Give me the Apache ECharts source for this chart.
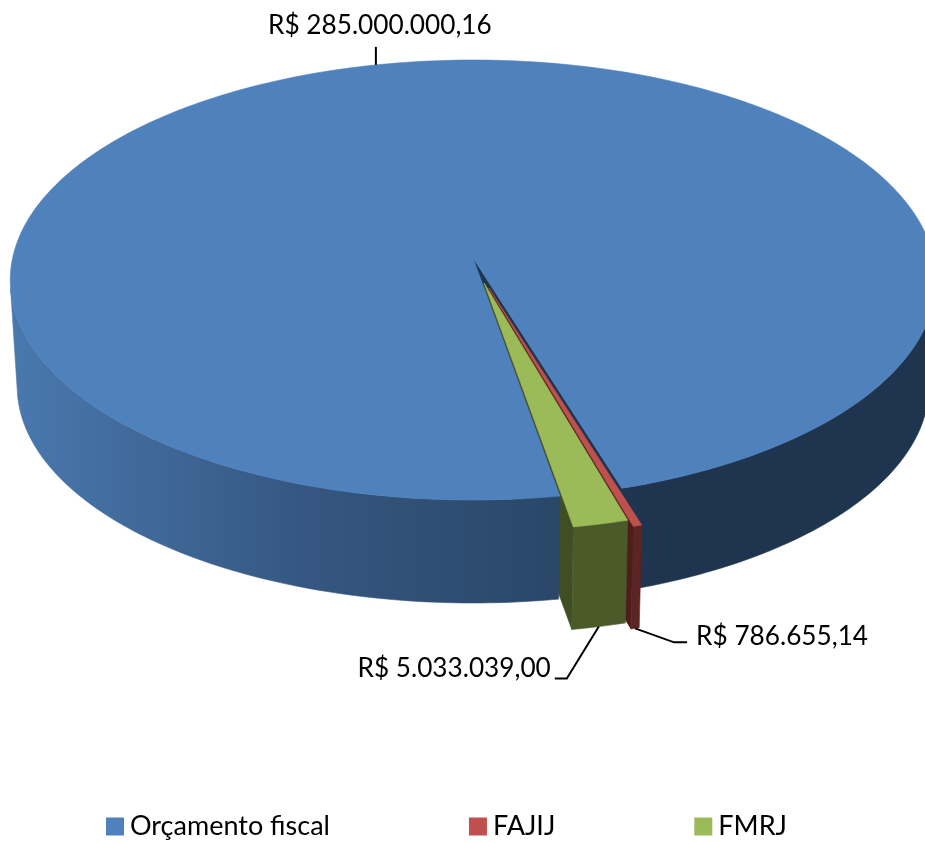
<!DOCTYPE html>
<html>
<head>
<meta charset="utf-8">
<style>
html, body { margin: 0; padding: 0; background: #fff; overflow: hidden; }
#chart { width: 925px; height: 843px; }
</style>
<script src="https://cdn.jsdelivr.net/npm/echarts@6/dist/echarts.min.js"></script>
</head>
<body>
<div id="chart"></div>
<script>
var categories = ['Orçamento fiscal', 'FAJIJ', 'FMRJ'];
var values = [285000000.16, 786655.14, 5033039.00];
var valueLabels = ['R$ 285.000.000,16', 'R$ 786.655,14', 'R$ 5.033.039,00'];

// cores: topo, parede lateral, parede radial
var topColors = ['#4f81bd', '#c0504d', '#9bbb59'];
var wallColors = ['#2a4768', '#5c2422', '#4a5a28'];
var faceColors = ['#1f344f', '#4e1e1c', '#414e23'];

// explosao de cada fatia, no plano do disco
var offsets = [[-0.002, 0], [0.032, 0.136], [0.0217, 0.1135]];

// primeira fatia comeca aqui (graus, horario a partir do topo)
var firstAngle = 170.2;

// projecao do disco em perspectiva
var view = { cx: 474, cy: 258, a: 460.5, b: 217.8, k: 0.1, scale: 0.985, cyBottom: 364.6 };

// onde a parede some atras do topo
var silhouette = { left: 262, right: 98 };

var FONT = '26.2px Lato';
var RAD = Math.PI / 180;

var total = values.reduce(function (s, v) { return s + v; }, 0);

function project(u, v, bottom) {
	var w = 1 - view.k * v;
	var x = view.a * u / w;
	var y = view.b * v / w;
	if (bottom) {
		return [view.cx + view.scale * x, view.cyBottom + view.scale * y];
	}
	return [view.cx + x, view.cy + y];
}

function rim(index, deg, bottom) {
	var o = offsets[index];
	return project(o[0] + Math.sin(deg * RAD), o[1] - Math.cos(deg * RAD), bottom);
}

function arc(index, from, to, bottom) {
	var pts = [];
	var n = Math.max(2, Math.ceil(Math.abs(to - from)));
	for (var i = 0; i <= n; i++) {
		pts.push(rim(index, from + (to - from) * i / n, bottom));
	}
	return pts;
}

// inicio e fim de cada fatia, a partir dos valores
var ranges = [];
var acc = firstAngle;
values.forEach(function (v) {
	var sweep = v / total * 360;
	ranges.push([acc, acc + sweep]);
	acc += sweep;
});

// o traco da mesma cor evita a linha clara entre poligonos vizinhos
function poly(points, fill, z2) {
	return {
		type: 'polygon', shape: { points: points },
		style: { fill: fill, stroke: fill, lineWidth: 0.6 }, z2: z2, silent: true
	};
}

function outerWall(index, from, to, fill, z2) {
	return poly(arc(index, from, to, false).concat(arc(index, to, from, true)), fill, z2);
}

function radialWall(index, deg, fill, z2) {
	var o = offsets[index];
	return poly([
		project(o[0], o[1], false), rim(index, deg, false),
		rim(index, deg, true), project(o[0], o[1], true)
	], fill, z2);
}

function callout(anchor, mid, end, textX, textY, align, text) {
	var pts = [anchor, [anchor[0] + mid[0], anchor[1] + mid[1]]];
	if (end) {
		pts.push([anchor[0] + end[0], anchor[1] + end[1]]);
	}
	return [{
		type: 'polyline', shape: { points: pts },
		style: { stroke: '#000', lineWidth: 2, fill: null }, z2: 20, silent: true
	}, {
		type: 'text', z2: 20, silent: true,
		style: {
			x: anchor[0] + textX, y: anchor[1] + textY, text: text, font: FONT,
			fill: '#000', textAlign: align, textVerticalAlign: 'middle'
		}
	}];
}

function leftGradient() {
	return new echarts.graphic.LinearGradient(10, 0, 560, 0, [
		{ offset: 0, color: '#4a78ae' },
		{ offset: 0.55, color: '#345680' },
		{ offset: 1, color: wallColors[0] }
	], true);
}

// ordem de pintura (z2): face azul 0, parede direita 1, faces vermelha/verde 2-3,
// parede esquerda 4, topo azul 5, fatias pequenas por cima
function renderBudget() {
	var r = ranges[0];
	var kids = [
		radialWall(0, r[1], faceColors[0], 0),
		outerWall(0, silhouette.right + 360, r[1], faceColors[0], 1),
		outerWall(0, r[0], silhouette.left, leftGradient(), 4),
		poly([project(offsets[0][0], offsets[0][1], false)].concat(arc(0, r[0], r[1], false)), topColors[0], 5)
	];
	var mid = (r[0] + r[1]) / 2;
	return { type: 'group', children: kids.concat(callout(rim(0, mid, false), [0, -18], null, 4, -39, 'center', valueLabels[0])) };
}

function renderSmall(index, z) {
	var r = ranges[index];
	var o = offsets[index];
	var kids = [
		radialWall(index, r[1], faceColors[index], index + 1),
		outerWall(index, r[0], r[1], wallColors[index], z),
		poly([project(o[0], o[1], false)].concat(arc(index, r[0], r[1], false)), topColors[index], z + 1)
	];
	var anchor = rim(index, (r[0] + r[1]) / 2, true);
	if (index === 1) {
		return { type: 'group', children: kids.concat(callout(anchor, [39, 14], [52, 14], 61, 8, 'left', valueLabels[1])) };
	}
	return { type: 'group', children: kids.concat(callout(anchor, [-32, 52], [-44, 52], -48, 42, 'right', valueLabels[2])) };
}

var chart = echarts.init(document.getElementById('chart'));

chart.setOption({
	backgroundColor: '#fff',
	animation: false,
	legend: {
		left: 106,
		top: 813,
		padding: 0,
		icon: 'rect',
		itemWidth: 18,
		itemHeight: 18,
		itemGap: 139,
		selectedMode: false,
		data: categories,
		textStyle: { fontFamily: 'Lato', fontSize: 27, color: '#000', padding: [0, 0, 0, 1] }
	},
	series: [
		{
			type: 'custom', name: categories[0], coordinateSystem: 'none',
			itemStyle: { color: topColors[0] }, data: [[values[0]]],
			renderItem: function () { return renderBudget(); }
		},
		{
			type: 'custom', name: categories[1], coordinateSystem: 'none',
			itemStyle: { color: topColors[1] }, data: [[values[1]]],
			renderItem: function () { return renderSmall(1, 6); }
		},
		{
			type: 'custom', name: categories[2], coordinateSystem: 'none',
			itemStyle: { color: topColors[2] }, data: [[values[2]]],
			renderItem: function () { return renderSmall(2, 8); }
		}
	]
});
</script>
</body>
</html>
